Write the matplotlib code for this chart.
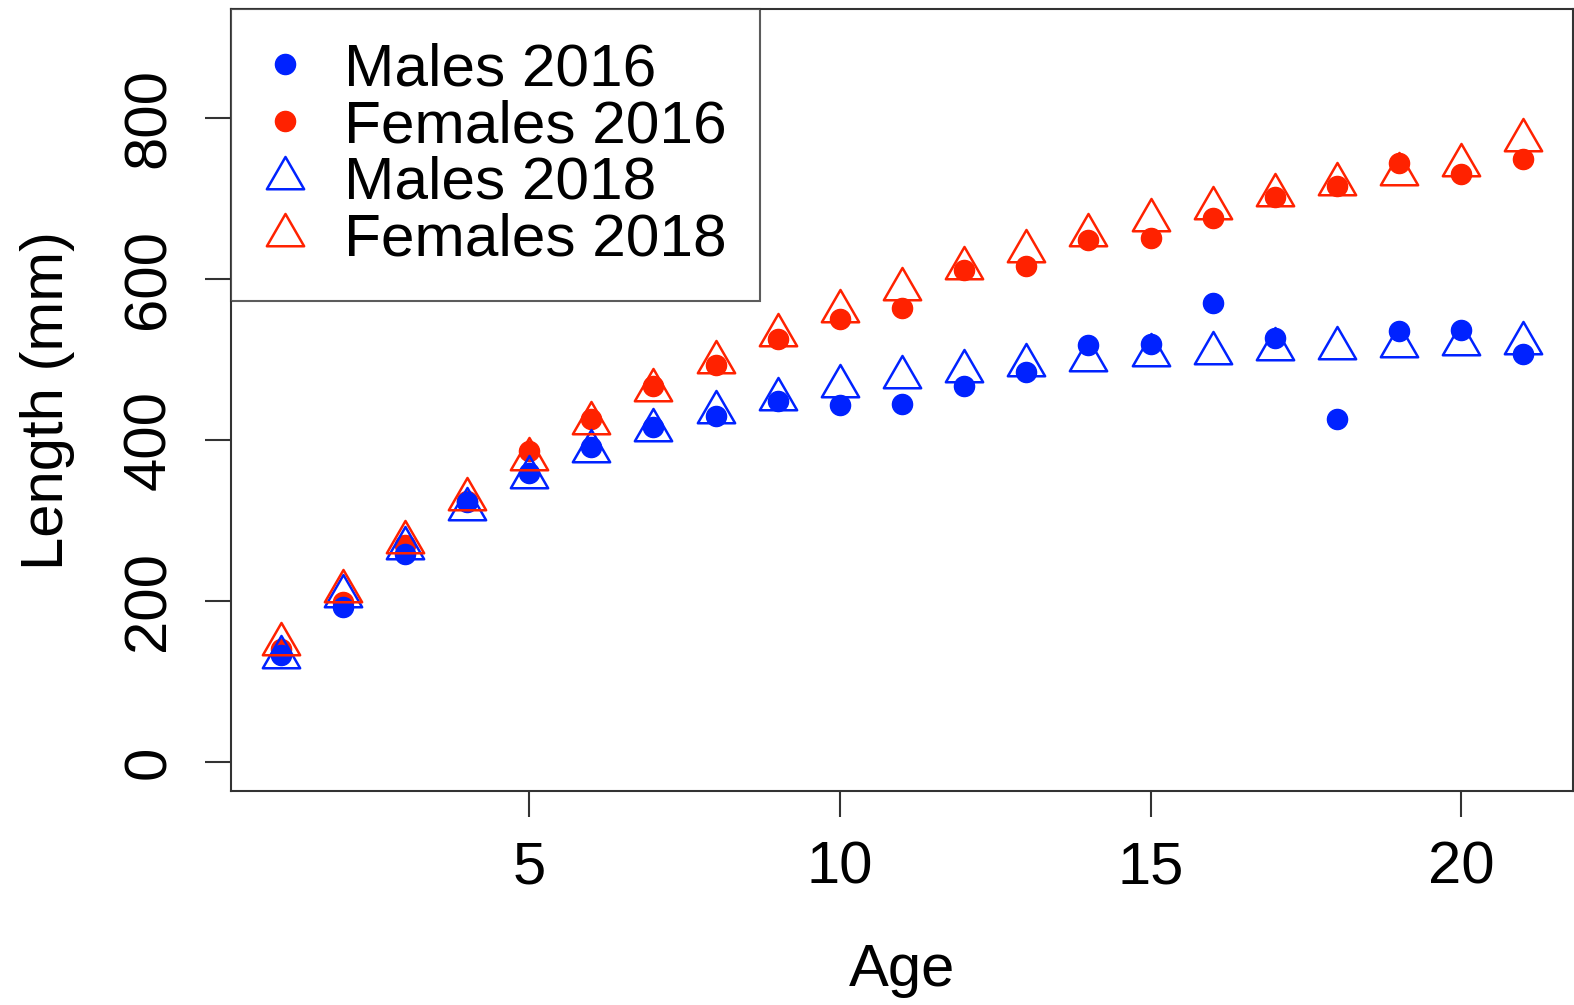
import matplotlib
matplotlib.use("Agg")
import matplotlib.pyplot as plt
from matplotlib.path import Path
from matplotlib.lines import Line2D

plt.rcParams['font.family'] = ['Liberation Sans', 'DejaVu Sans']

ages = list(range(1, 22))
males_2016 = [133, 193, 259, 323, 359, 392, 417, 430, 449, 444, 445, 467, 485, 518, 519, 571, 527, 427, 536, 537, 507]
females_2016 = [140, 199, 270, 325, 387, 427, 467, 494, 526, 551, 564, 612, 616, 649, 651, 676, 702, 716, 745, 731, 749]
males_2018 = [131, 206, 266, 314, 354, 386, 413, 435, 451, 467, 478, 486, 494, 500, 506, 509, 514, 515, 517, 519, 521]
females_2018 = [147, 213, 274, 327, 377, 421, 462, 497, 531, 561, 588, 614, 635, 655, 674, 689, 705, 718, 731, 742, 773]

x_ticks = [5, 10, 15, 20]
y_ticks = [0, 200, 400, 600, 800]

# open triangle centred on its centroid
tri = Path([(0, 1), (0.866, -0.5), (-0.866, -0.5), (0, 1)],
           [Path.MOVETO, Path.LINETO, Path.LINETO, Path.CLOSEPOLY])

BLUE = '#0022ff'
RED = '#ff2200'
FS = 43

fig = plt.figure(figsize=(15.74, 10.05), dpi=100)
ax = fig.add_axes([231 / 1574, 1 - 791 / 1005, (1573 - 231) / 1574, (791 - 9) / 1005])

dot_ms = 14.5
tri_ms = 31
tri_lw = 1.8

ax.plot(ages, females_2016, ls='none', marker='o', ms=dot_ms, mfc=RED, mec=RED, zorder=2)
ax.plot(ages, males_2016, ls='none', marker='o', ms=dot_ms, mfc=BLUE, mec=BLUE, zorder=3)
ax.plot(ages, males_2018, ls='none', marker=tri, ms=tri_ms, mfc='none', mec=BLUE, mew=tri_lw, zorder=4)
ax.plot(ages, females_2018, ls='none', marker=tri, ms=tri_ms, mfc='none', mec=RED, mew=tri_lw, zorder=5)

ax.set_xlim(0.2, 21.8)
ax.set_ylim(-36, 936)
ax.set_xticks(x_ticks)
ax.set_yticks(y_ticks)
ax.set_xticklabels([str(t) for t in x_ticks], fontsize=FS)
ax.set_yticklabels([str(t) for t in y_ticks], fontsize=FS, rotation=90, va='center')
ax.tick_params(axis='both', direction='out', length=19, width=1.5, colors='#333333', labelcolor='black')
ax.tick_params(axis='x', pad=17)
ax.tick_params(axis='y', pad=20)

for s in ax.spines.values():
    s.set_color('#333333')
    s.set_linewidth(1.5)

ax.set_xlabel('Age', fontsize=FS, labelpad=34)
ax.set_ylabel('Length (mm)', fontsize=FS, labelpad=34)

handles = [
    Line2D([], [], ls='none', marker='o', ms=dot_ms, mfc=BLUE, mec=BLUE),
    Line2D([], [], ls='none', marker='o', ms=dot_ms, mfc=RED, mec=RED),
    Line2D([], [], ls='none', marker=tri, ms=tri_ms, mfc='none', mec=BLUE, mew=tri_lw),
    Line2D([], [], ls='none', marker=tri, ms=tri_ms, mfc='none', mec=RED, mew=tri_lw),
]
labels = ['Males 2016', 'Females 2016', 'Males 2018', 'Females 2018']
leg = ax.legend(handles, labels, loc='upper left', bbox_to_anchor=(0, 1), borderaxespad=0,
                fontsize=43.5, frameon=True, fancybox=False, edgecolor='#333333',
                borderpad=0.55, labelspacing=0.03, handlelength=0.7, handletextpad=0.62)
leg.get_frame().set_linewidth(1.5)

fig.savefig('out.png', dpi=100)
